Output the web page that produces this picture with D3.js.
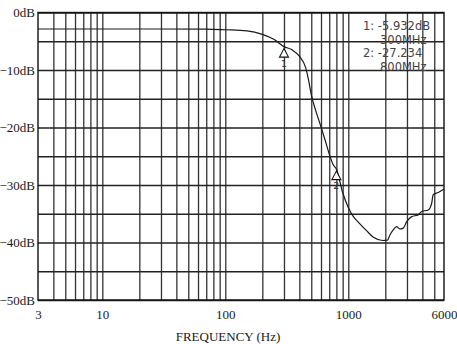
<!DOCTYPE html>
<html>
<head>
<meta charset="utf-8">
<script src="https://cdn.jsdelivr.net/npm/d3@7"></script>
<style>
  html, body { margin: 0; padding: 0; background: #fff; }
  svg { display: block; }
</style>
</head>
<body>
<svg id="chart" width="457" height="344"></svg>
<script>
// Frequency response: gain (dB) against frequency on a log axis
const freqs = [3, 10, 30, 70, 100, 150, 200, 250, 300, 350, 400, 450, 475, 500, 550, 600, 650, 700, 750, 800,
  900, 1000, 1100, 1200, 1400, 1600, 1900, 2080, 2180, 2320, 2470, 2630, 2800, 2980, 3280, 3700, 3950,
  4470, 4760, 4900, 5390, 6000];
const gainDb = [-2.87, -2.87, -2.87, -2.88, -3.0, -3.2, -3.8, -4.7, -5.932, -6.5, -7.6, -9.6, -11.7, -14.3, -17.4,
  -19.9, -22.3, -24.6, -26.4, -27.234, -31.3, -33.9, -35.5, -36.4, -37.9, -39.1, -39.65, -39.6, -38.7, -37.8,
  -37.25, -37.65, -37.5, -36.4, -35.5, -35.2, -34.6, -34.35, -33.2, -31.7, -31.3, -30.7];

// Marker readouts
const markerIds = ["1", "2"];
const markerFreqs = [300, 800];
const markerGains = [-5.932, -27.234];
const readoutLines = ["1: -5.932dB", "300MHz", "2: -27.234", "800MHz"];

// Axis ticks and grid
const xGridValues = [4, 5, 6, 7, 8, 9, 10, 20, 30, 40, 50, 60, 70, 80, 90, 100,
  200, 300, 400, 500, 600, 700, 800, 900, 1000, 2000, 3000, 4000, 5000];
const xTickLabels = [3, 10, 100, 1000, 6000];
const yGridValues = [0, -5, -10, -15, -20, -25, -30, -35, -40, -45, -50];
const yTickLabels = [0, -10, -20, -30, -40, -50];
const xTitle = "FREQUENCY (Hz)";

const svg = d3.select("#chart");
const plotL = 38, plotR = 444, plotT = 12.5, plotB = 300;
const W = plotR - plotL, H = plotB - plotT;

const x = d3.scaleLog().domain([3, 6000]).range([plotL, plotR]);
const y = d3.scaleLinear().domain([-50, 0]).range([plotB, plotT]);

const serif = "'Liberation Serif', 'Times New Roman', serif";
const sans = "'DejaVu Sans', sans-serif";

// Vertical grid lines
const gx = svg.append("g")
  .attr("transform", `translate(0,${plotB})`)
  .call(d3.axisBottom(x).tickValues(xGridValues).tickSize(-H).tickFormat(""));
gx.select(".domain").remove();
gx.selectAll(".tick line").attr("stroke", "#333").attr("stroke-width", 1.3);

// Horizontal grid lines
const gy = svg.append("g")
  .attr("transform", `translate(${plotL},0)`)
  .call(d3.axisLeft(y).tickValues(yGridValues).tickSize(-W).tickFormat(""));
gy.select(".domain").remove();
gy.selectAll(".tick line").attr("stroke", "#222").attr("stroke-width", 1.3);

// Y labels
const yl = svg.append("g")
  .attr("transform", `translate(${plotL},0)`)
  .call(d3.axisLeft(y).tickValues(yTickLabels).tickSize(0).tickPadding(3)
    .tickFormat(d => d3.format("d")(d) + "dB"));
yl.select(".domain").remove();
yl.selectAll("text")
  .attr("font-family", serif).attr("font-size", 13).attr("fill", "#1a1a1a");

// X labels
const xl = svg.append("g")
  .attr("transform", `translate(0,${plotB})`)
  .call(d3.axisBottom(x).tickValues(xTickLabels).tickSize(0).tickPadding(10)
    .tickFormat(d3.format("d")));
xl.select(".domain").remove();
xl.selectAll("text")
  .attr("font-family", serif).attr("font-size", 13).attr("fill", "#1a1a1a");

// Frame
svg.append("rect")
  .attr("x", plotL).attr("y", plotT).attr("width", W).attr("height", H)
  .attr("fill", "none").attr("stroke", "#111").attr("stroke-width", 1.4);

// Axis title
svg.append("text")
  .attr("x", 228).attr("y", 341)
  .attr("text-anchor", "middle")
  .attr("font-family", serif).attr("font-size", 13).attr("fill", "#1a1a1a")
  .text(xTitle);

// Response curve
const pts = freqs.map((f, i) => [x(f), y(gainDb[i])]);
svg.append("path")
  .attr("d", d3.line().curve(d3.curveMonotoneX)(pts))
  .attr("fill", "none").attr("stroke", "#1a1a1a").attr("stroke-width", 1.2);

// Marker triangles with their numbers underneath
markerIds.forEach((id, i) => {
  const mx = x(markerFreqs[i]), my = y(markerGains[i]) + 2;
  svg.append("path")
    .attr("d", `M${mx},${my} L${mx + 4.5},${my + 8.5} L${mx - 4.5},${my + 8.5} Z`)
    .attr("fill", "#fff").attr("stroke", "#111").attr("stroke-width", 1.1);
  svg.append("text")
    .attr("x", mx).attr("y", my + 18)
    .attr("text-anchor", "middle")
    .attr("font-family", sans).attr("font-size", 9.5).attr("fill", "#333")
    .text(id);
});

// Readout text
const readX = [363, 380, 363, 380];
const readY = [30, 43.5, 57, 71];
readoutLines.forEach((t, i) => {
  svg.append("text")
    .attr("x", readX[i]).attr("y", readY[i])
    .attr("font-family", sans).attr("font-size", 11.5).attr("fill", "#444")
    .text(t);
});
</script>
</body>
</html>
